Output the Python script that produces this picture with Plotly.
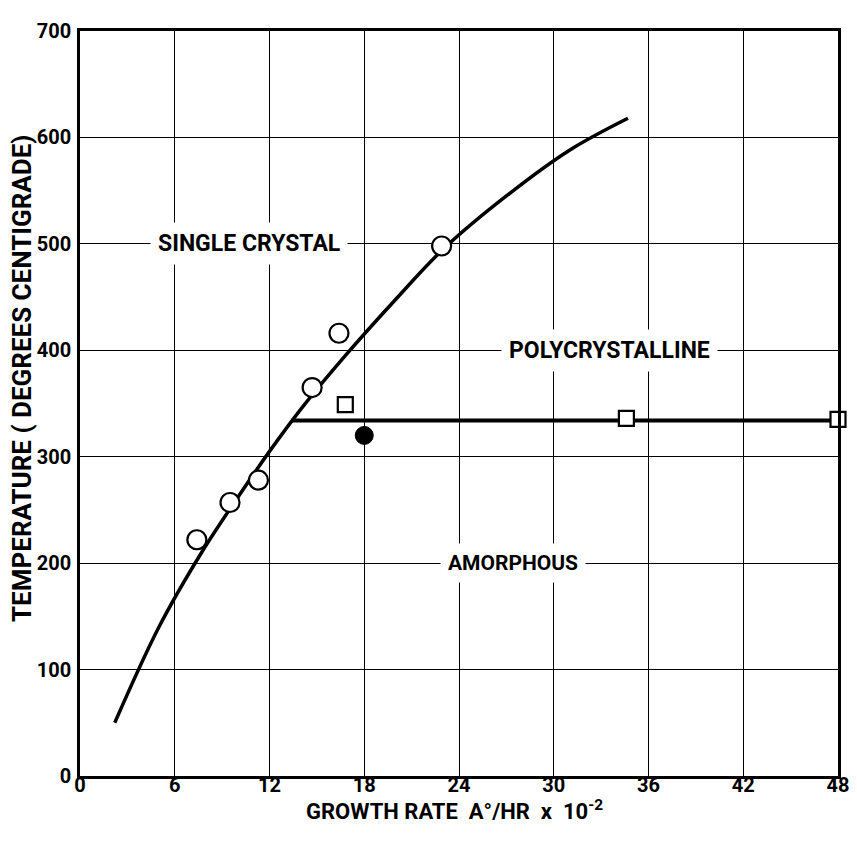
import plotly.graph_objects as go

# curve (boundary of the single crystal region)
curve_x = [2.2, 5.0, 7.7, 10.0, 12.0, 14.0, 16.8, 20.0, 23.0, 27.0, 31.0, 34.7]
curve_y = [50, 140, 210, 262, 305, 345, 395, 448, 495, 545, 588, 618]

# polycrystalline / amorphous boundary
hline_x = [13.4, 48.0]
hline_y = [334, 334]

circle_x = [7.4, 9.5, 11.3, 14.7, 16.4, 22.9]
circle_y = [222, 257, 278, 365, 416, 498]

square_x = [16.8, 34.6, 48.0]
square_y = [349, 336, 335]

filled_x = [18.0]
filled_y = [320]

x_ticks = [0, 6, 12, 18, 24, 30, 36, 42, 48]
y_ticks = [0, 100, 200, 300, 400, 500, 600, 700]

region_labels = ["SINGLE CRYSTAL", "POLYCRYSTALLINE", "AMORPHOUS"]
region_x = [10.7, 33.5, 27.4]
region_y = [500, 400, 200]

FONT = "Roboto, Liberation Sans, sans-serif"
label_sizes = [23, 23, 21]

# page body adds an 8px margin, so the figure is drawn smaller to avoid overflow
W, H = 841, 828
L, R, T, B = 72, 11, 23, 60
pw, ph = W - L - R, H - T - B

fig = go.Figure()
fig.add_trace(go.Scatter(x=curve_x, y=curve_y, mode="lines",
                         line=dict(color="black", width=3.5, shape="spline", smoothing=1.0), showlegend=False))
fig.add_trace(go.Scatter(x=hline_x, y=hline_y, mode="lines", line=dict(color="black", width=4), showlegend=False))
fig.add_trace(go.Scatter(x=circle_x, y=circle_y, mode="markers",
                         marker=dict(symbol="circle", size=19, color="white", line=dict(color="black", width=2.2)), showlegend=False))
fig.add_trace(go.Scatter(x=square_x, y=square_y, mode="markers", cliponaxis=False,
                         marker=dict(symbol="square", size=15, color="white", line=dict(color="black", width=2.2)), showlegend=False))
fig.add_trace(go.Scatter(x=filled_x, y=filled_y, mode="markers",
                         marker=dict(symbol="circle", size=18, color="black", line=dict(color="black", width=1)), showlegend=False))

for t, x, y, s in zip(region_labels, region_x, region_y, label_sizes):
    fig.add_annotation(x=x, y=y, text="<b>" + t + "</b>", showarrow=False, bgcolor="white", borderpad=7,
                       xanchor="center", yanchor="middle",
                       font=dict(family=FONT, size=s, color="black"))

# axis titles placed as annotations for exact placement
fig.add_annotation(xref="paper", yref="paper", x=(446 - L) / pw, y=(H - B - 802) / ph,
                   xanchor="center", yanchor="middle",
                   text="<b>GROWTH RATE  A°/HR  x  10<sup>-2</sup></b>", showarrow=False,
                   font=dict(family=FONT, size=22, color="black"))
fig.add_annotation(xref="paper", yref="paper", x=(14 - L) / pw, y=(H - B - 371) / ph, textangle=-90,
                   xanchor="center", yanchor="middle",
                   text="<b>TEMPERATURE ( DEGREES CENTIGRADE)</b>", showarrow=False,
                   font=dict(family=FONT, size=26, color="black"))

axis_common = dict(showgrid=True, gridcolor="black", gridwidth=1.4, zeroline=False, showline=True,
                   linecolor="black", linewidth=2.5, mirror=True, ticks="", automargin=False,
                   ticklabeloverflow="allow",
                   tickfont=dict(family=FONT, size=20, color="black", weight="bold"))

fig.update_layout(
    width=W, height=H, plot_bgcolor="white", paper_bgcolor="white",
    margin=dict(l=L, r=R, t=T, b=B),
    xaxis=dict(range=[0, 48], tickvals=x_ticks, ticktext=[str(v) for v in x_ticks], ticklabelstandoff=-11, **axis_common),
    yaxis=dict(range=[0, 700], tickvals=y_ticks, ticktext=[str(v) for v in y_ticks], ticklabelstandoff=2, **axis_common),
)

fig.write_html("out.html")
